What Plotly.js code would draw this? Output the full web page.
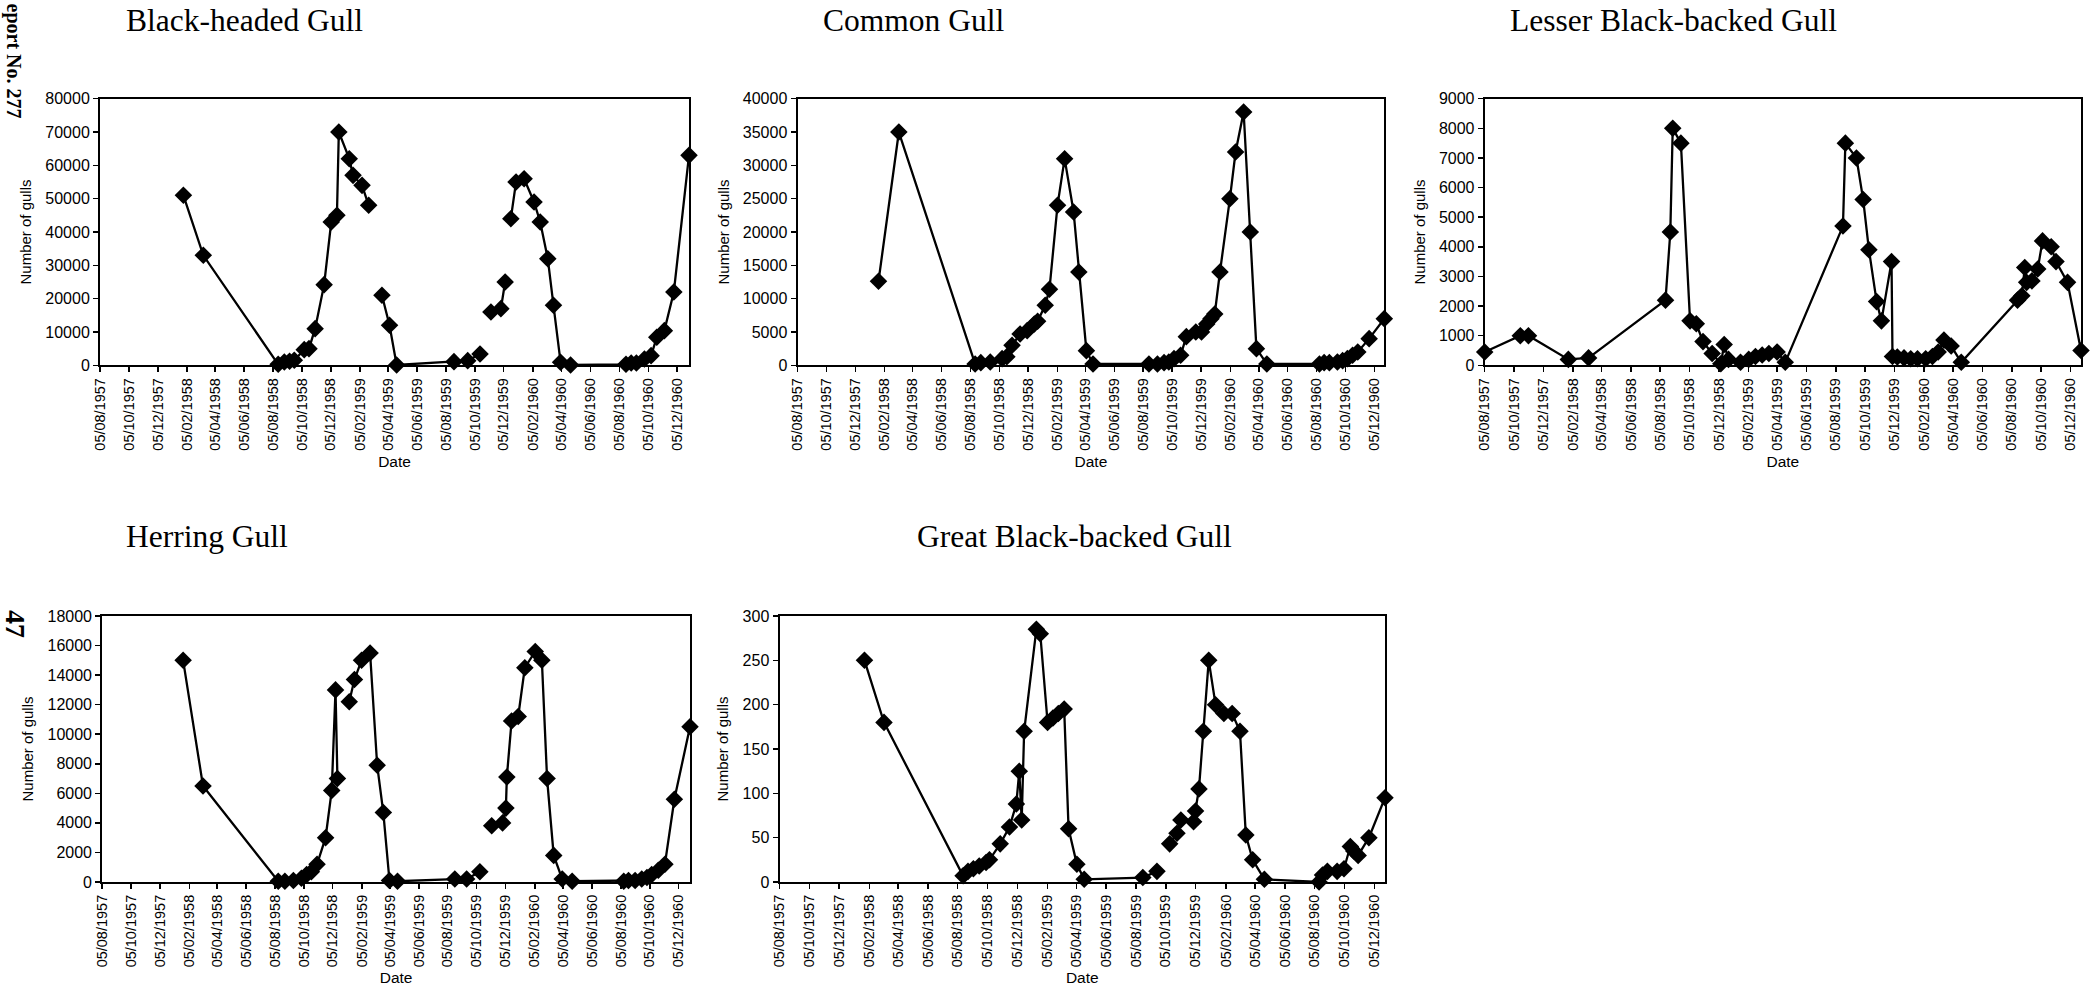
<!DOCTYPE html>
<html><head><meta charset="utf-8">
<script src="https://cdn.plot.ly/plotly-3.0.1.min.js"></script>
<style>html,body{margin:0;padding:0;background:#fff}</style>
</head><body><div id="chart" style="width:2100px;height:989px"></div>
<script>
// ---------- DATA ----------
const speciesNames = ['Black-headed Gull','Common Gull','Lesser Black-backed Gull','Herring Gull','Great Black-backed Gull'];

const bhgDates = ['1958-01-28','1958-03-11','1958-08-16','1958-08-29','1958-09-09','1958-09-19','1958-10-10','1958-10-20','1958-11-02','1958-11-21','1958-12-06','1958-12-18','1958-12-22','1959-01-13','1959-01-21','1959-02-09','1959-02-23','1959-03-09','1959-03-23','1959-04-08','1959-04-23','1959-08-22','1959-09-20','1959-10-16','1959-10-27','1959-11-08','1959-11-29','1959-12-08','1959-12-14','1959-12-20','1959-12-31','1960-01-17','1960-02-07','1960-02-20','1960-03-07','1960-03-19','1960-04-03','1960-04-24','1960-08-19','1960-08-30','1960-09-10','1960-09-27','1960-10-11','1960-10-23','1960-11-08','1960-11-28','1960-12-30'];
const bhgCounts = [51000,33000,300,1000,1200,1500,4700,5000,11000,24200,43000,45000,70000,62000,57000,54000,48000,null,21000,12000,100,1100,1400,3400,null,16000,17000,25000,null,44000,55000,56000,49000,43000,32000,18000,900,100,300,700,700,1900,2900,8400,10400,22000,63000];

const cgDates = ['1958-01-23','1958-03-07','1958-08-15','1958-08-27','1958-09-16','1958-10-11','1958-10-21','1958-11-01','1958-11-18','1958-12-03','1958-12-18','1958-12-25','1959-01-10','1959-01-19','1959-02-05','1959-02-20','1959-03-11','1959-03-22','1959-04-07','1959-04-21','1959-08-17','1959-09-04','1959-09-18','1959-09-28','1959-10-09','1959-10-23','1959-11-04','1959-11-24','1959-12-06','1959-12-17','1959-12-26','1960-01-03','1960-01-14','1960-02-04','1960-02-16','1960-03-04','1960-03-18','1960-03-31','1960-04-22','1960-08-11','1960-08-21','1960-09-01','1960-09-18','1960-09-29','1960-10-09','1960-10-20','1960-10-31','1960-11-24','1960-12-26'];
const cgCounts = [12600,35000,200,400,500,1000,1300,3000,4700,5200,6200,6600,9000,11400,24000,31000,23000,14000,2200,200,200,200,400,500,1000,1500,4300,5000,5000,6200,7000,7700,14000,25000,32000,38000,20000,2500,200,200,400,400,500,700,1000,1500,2000,4000,7000];

const lbbgDates = ['1957-08-05','1957-10-18','1957-11-04','1958-01-26','1958-03-09','1958-08-16','1958-08-26','1958-08-31','1958-09-17','1958-10-06','1958-10-19','1958-11-02','1958-11-21','1958-12-09','1958-12-16','1958-12-25','1959-01-19','1959-02-05','1959-02-19','1959-03-05','1959-03-19','1959-04-05','1959-04-22','1959-08-20','1959-08-25','1959-09-17','1959-10-01','1959-10-13','1959-10-29','1959-11-08','1959-11-29','1959-12-01','1959-12-11','1959-12-25','1960-01-08','1960-01-22','1960-02-08','1960-02-22','1960-03-05','1960-03-17','1960-04-01','1960-04-22','1960-08-17','1960-08-26','1960-09-01','1960-09-05','1960-09-16','1960-09-28','1960-10-08','1960-10-26','1960-11-05','1960-11-29','1960-12-27'];
const lbbgCounts = [450,1000,1000,200,250,2200,4500,8000,7500,1500,1400,800,400,50,700,200,100,200,300,350,400,450,100,4700,7500,7000,5600,3900,2150,1500,3500,300,280,250,220,220,220,300,450,850,650,100,2200,2350,3300,2800,2850,3250,4200,4000,3500,2800,500];

const hgDates = ['1958-01-23','1958-03-06','1958-08-12','1958-08-26','1958-09-13','1958-09-30','1958-10-11','1958-10-21','1958-11-02','1958-11-20','1958-12-03','1958-12-11','1958-12-15','1958-12-28','1959-01-09','1959-01-20','1959-02-04','1959-02-22','1959-03-09','1959-03-22','1959-04-04','1959-04-21','1959-08-20','1959-09-14','1959-10-12','1959-10-25','1959-11-06','1959-11-29','1959-12-06','1959-12-08','1959-12-18','1960-01-01','1960-01-15','1960-02-06','1960-02-20','1960-03-02','1960-03-16','1960-04-03','1960-04-24','1960-08-11','1960-08-21','1960-09-04','1960-09-18','1960-09-29','1960-10-09','1960-10-23','1960-11-06','1960-11-26','1960-12-29'];
const hgCounts = [15000,6500,50,50,100,250,500,700,1200,3000,6200,13000,7000,null,12200,13700,15000,15500,7900,4700,100,50,200,200,700,null,3800,4000,5000,7100,10900,11200,14500,15600,15000,7000,1800,200,50,50,100,100,200,300,500,800,1200,5600,10500];

const gbbgDates = ['1958-01-26','1958-03-07','1958-08-16','1958-08-26','1958-09-06','1958-09-18','1958-10-02','1958-10-09','1958-10-31','1958-11-19','1958-12-03','1958-12-09','1958-12-14','1958-12-19','1959-01-13','1959-01-21','1959-02-05','1959-02-16','1959-02-27','1959-03-11','1959-03-20','1959-04-06','1959-04-21','1959-08-19','1959-09-17','1959-09-30','1959-10-13','1959-10-28','1959-11-05','1959-11-18','1959-12-01','1959-12-05','1959-12-12','1959-12-21','1960-01-01','1960-01-15','1960-02-01','1960-02-18','1960-03-05','1960-03-17','1960-03-31','1960-04-24','1960-08-14','1960-08-21','1960-08-31','1960-09-20','1960-10-04','1960-10-17','1960-10-24','1960-11-02','1960-11-24','1960-12-27'];
const gbbgCounts = [250,180,7,12,15,18,22,25,43,62,88,125,70,170,285,280,180,185,190,195,60,20,3,5,12,null,43,55,70,null,68,80,105,170,250,200,190,190,170,53,25,3,0,8,12,12,15,40,35,30,50,95];

const yMaxima = [80000, 40000, 9000, 18000, 300];
const yTickSteps = [10000, 5000, 1000, 2000, 50];
const axisStartDate = '1957-08-05';
const xAxisTitle = 'Date';
const yAxisTitle = 'Number of gulls';
const pageFooter = 'eport No. 277';
const pageNumber = '47';

const allDates = [bhgDates, cgDates, lbbgDates, hgDates, gbbgDates];
const allCounts = [bhgCounts, cgCounts, lbbgCounts, hgCounts, gbbgCounts];

// ---------- LAYOUT GEOMETRY (px) ----------
const W = 2100, H = 989;
const boxes = [ // [left, right, top, bottom]
  [100, 689, 98.7, 365.3],
  [797.5, 1384.3, 98.7, 365.3],
  [1484.7, 2081, 98.7, 365.3],
  [102.2, 690, 616, 882],
  [779.5, 1385, 616, 882]
];
const titlePos = [[124, 20], [821, 20], [1508, 20], [124, 536.5], [915, 536.5]];

const traces = [];
const layout = {
  width: W, height: H,
  margin: {l: 0, r: 0, t: 0, b: 0, pad: 0},
  paper_bgcolor: '#ffffff', plot_bgcolor: '#ffffff',
  showlegend: false,
  font: {family: 'Liberation Sans, Arial, sans-serif', color: '#000'},
  annotations: []
};

for (let i = 0; i < 5; i++) {
  const n = i === 0 ? '' : String(i + 1);
  const b = boxes[i];
  traces.push({
    type: 'scatter', mode: 'lines+markers',
    x: allDates[i], y: allCounts[i],
    xaxis: 'x' + n, yaxis: 'y' + n,
    line: {color: '#000', width: 2.3},
    marker: {symbol: 'diamond', size: 13.5, color: '#000', line: {width: 0}},
    cliponaxis: false, connectgaps: false, hoverinfo: 'x+y'
  });
  const lastDate = allDates[i][allDates[i].length - 1];
  layout['xaxis' + n] = {
    domain: [b[0] / W, b[1] / W], anchor: 'y' + n, type: 'date',
    range: [axisStartDate, lastDate],
    tickmode: 'linear', tick0: axisStartDate, dtick: 'M2', tickformat: '%d/%m/%Y',
    tickangle: -90, ticks: 'outside', ticklen: 5, tickwidth: 1.5, tickcolor: '#000',
    showline: true, linewidth: 2, linecolor: '#000', mirror: true,
    showgrid: false, zeroline: false,
    tickfont: {family: 'Liberation Sans, Arial, sans-serif', size: 14.5, color: '#000'},
    title: {text: xAxisTitle, font: {family: 'Liberation Sans, Arial, sans-serif', size: 15.5, color: '#000'}, standoff: 6},
    fixedrange: true
  };
  layout['yaxis' + n] = {
    domain: [1 - b[3] / H, 1 - b[2] / H], anchor: 'x' + n,
    range: [0, yMaxima[i]], tickmode: 'linear', tick0: 0, dtick: yTickSteps[i], tickformat: 'd',
    ticks: 'outside', ticklen: 5, tickwidth: 1.5, tickcolor: '#000',
    showline: true, linewidth: 2, linecolor: '#000', mirror: true,
    showgrid: false, zeroline: false,
    tickfont: {family: 'Liberation Sans, Arial, sans-serif', size: 16, color: '#000'},
    title: {text: yAxisTitle, font: {family: 'Liberation Sans, Arial, sans-serif', size: 15, color: '#000'}, standoff: 10},
    fixedrange: true
  };
  layout.annotations.push({
    text: speciesNames[i], xref: 'paper', yref: 'paper',
    x: titlePos[i][0] / W, y: 1 - titlePos[i][1] / H, xanchor: 'left', yanchor: 'middle',
    showarrow: false, font: {family: 'Liberation Serif, Times New Roman, serif', size: 31.5, color: '#000'}
  });
}
layout.annotations.push({
  text: '<b>' + pageFooter + '</b>', xref: 'paper', yref: 'paper',
  x: 13 / W, y: 1 - 1 / H, xanchor: 'center', yanchor: 'top', textangle: 90,
  showarrow: false, font: {family: 'Liberation Serif, serif', size: 20, color: '#000'}
});
layout.annotations.push({
  text: '<b>' + pageNumber + '</b>', xref: 'paper', yref: 'paper',
  x: 16 / W, y: 1 - 624 / H, xanchor: 'center', yanchor: 'middle', textangle: 90,
  showarrow: false, font: {family: 'Liberation Serif, serif', size: 28, color: '#000'}
});

Plotly.newPlot('chart', traces, layout, {staticPlot: true, displayModeBar: false});
</script></body></html>
